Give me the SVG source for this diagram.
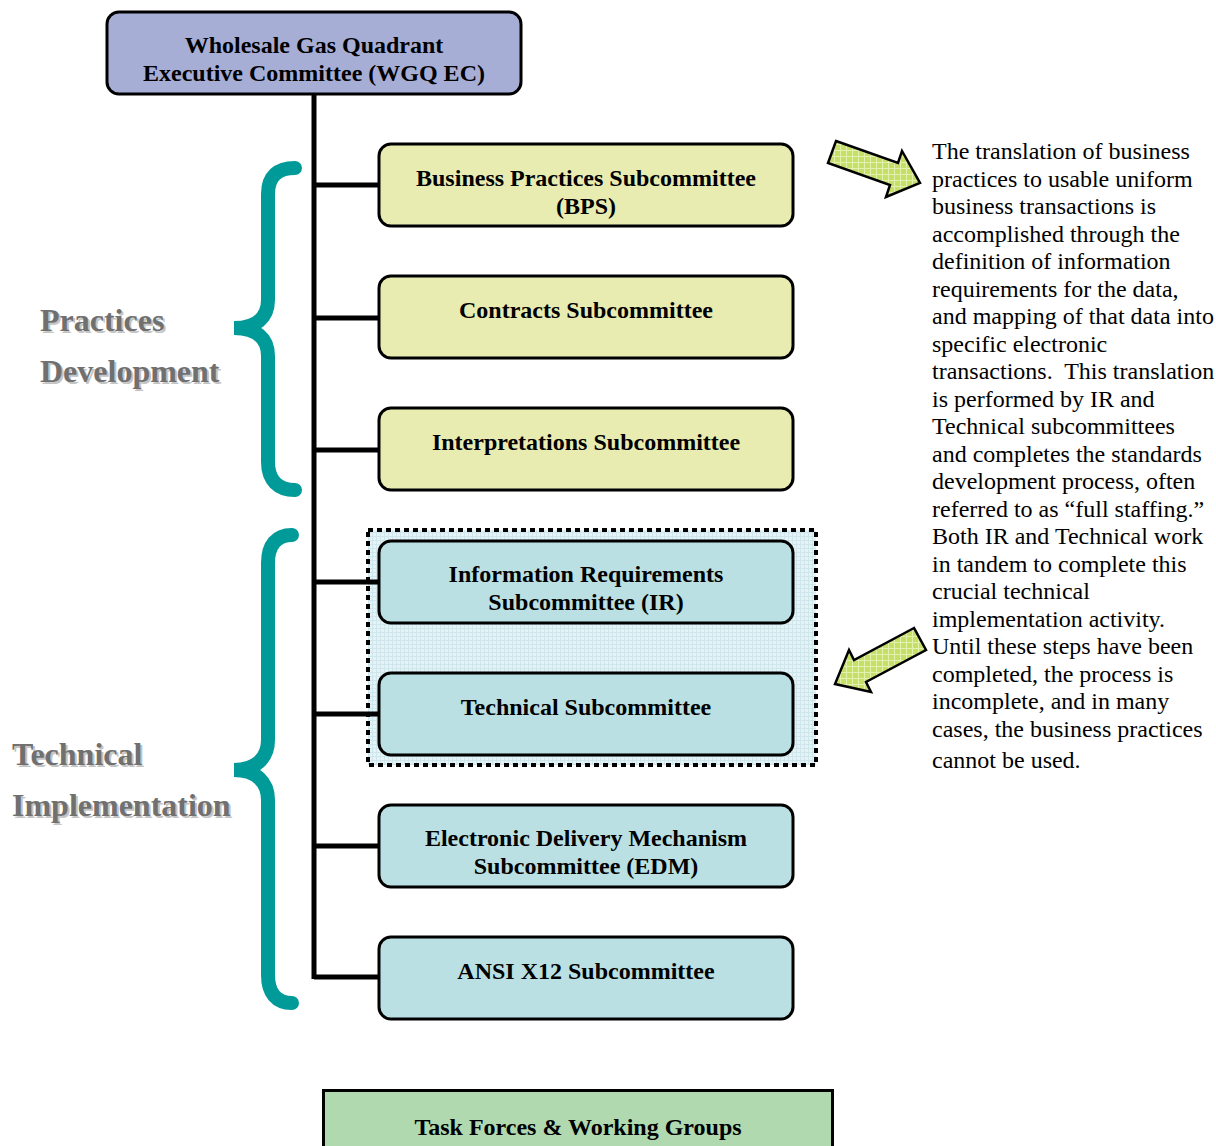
<svg xmlns="http://www.w3.org/2000/svg" width="1216" height="1146" viewBox="0 0 1216 1146">
<defs>
<pattern id="grid" width="4" height="4" patternUnits="userSpaceOnUse">
<rect width="4" height="4" fill="#e6f3f6"/>
<path d="M0 0.5H4M0.5 0V4" stroke="#cfe7ec" stroke-width="1"/>
</pattern>
<pattern id="agrid" width="6" height="6" patternUnits="userSpaceOnUse">
<rect width="6" height="6" fill="#c6e067"/>
<path d="M0 0.5H6M0.5 0V6" stroke="#e2f0b0" stroke-width="1"/>
</pattern>
<style>
.box{stroke:#000;stroke-width:3}
.ec{fill:#a7aed6}
.yel{fill:#e9ecb0}
.blu{fill:#bbe0e3}
.t{font-family:"Liberation Serif","Times New Roman",serif;font-size:24px;font-weight:bold;fill:#000;text-anchor:middle}
.side{font-family:"Liberation Serif","Times New Roman",serif;font-size:32px;font-weight:bold}
.sh{fill:#c4c4c4}
.sf{fill:#707070}
.body{font-family:"Liberation Serif","Times New Roman",serif;font-size:24px;fill:#000}
.brace{fill:none;stroke:#009a98;stroke-width:14;stroke-linecap:round}
.conn{stroke:#000;stroke-width:5;fill:none}
.arrow{fill:url(#agrid);stroke:#000;stroke-width:2.5;stroke-linejoin:miter}
</style>
</defs>
<rect width="1216" height="1146" fill="#fff"/>

<g id="ir-tech-group">
<rect x="368" y="530" width="448" height="235" fill="url(#grid)" stroke="#000" stroke-width="4" stroke-dasharray="5 4"/>
</g>

<g id="connectors">
<line class="conn" x1="314" y1="94" x2="314" y2="979"/>
<line class="conn" x1="314" y1="185" x2="380" y2="185"/>
<line class="conn" x1="314" y1="318" x2="380" y2="318"/>
<line class="conn" x1="314" y1="450" x2="380" y2="450"/>
<line class="conn" x1="314" y1="582" x2="380" y2="582"/>
<line class="conn" x1="314" y1="714" x2="380" y2="714"/>
<line class="conn" x1="314" y1="846" x2="380" y2="846"/>
<line class="conn" x1="314" y1="977" x2="380" y2="977"/>
</g>

<g id="wgq-ec">
<rect class="box ec" x="107" y="12" width="414" height="82" rx="12"/>
<text class="t" x="314" y="53">Wholesale Gas Quadrant</text>
<text class="t" x="314" y="81">Executive Committee (WGQ EC)</text>
</g>

<g id="bps">
<rect class="box yel" x="379" y="144" width="414" height="82" rx="12"/>
<text class="t" x="586" y="186">Business Practices Subcommittee</text>
<text class="t" x="586" y="214">(BPS)</text>
</g>
<g id="contracts">
<rect class="box yel" x="379" y="276" width="414" height="82" rx="12"/>
<text class="t" x="586" y="318">Contracts Subcommittee</text>
</g>
<g id="interpretations">
<rect class="box yel" x="379" y="408" width="414" height="82" rx="12"/>
<text class="t" x="586" y="450">Interpretations Subcommittee</text>
</g>
<g id="ir">
<rect class="box blu" x="379" y="541" width="414" height="82" rx="12"/>
<text class="t" x="586" y="582">Information Requirements</text>
<text class="t" x="586" y="610">Subcommittee (IR)</text>
</g>
<g id="technical">
<rect class="box blu" x="379" y="673" width="414" height="82" rx="12"/>
<text class="t" x="586" y="715">Technical Subcommittee</text>
</g>
<g id="edm">
<rect class="box blu" x="379" y="805" width="414" height="82" rx="12"/>
<text class="t" x="586" y="846">Electronic Delivery Mechanism</text>
<text class="t" x="586" y="874">Subcommittee (EDM)</text>
</g>
<g id="ansi">
<rect class="box blu" x="379" y="937" width="414" height="82" rx="12"/>
<text class="t" x="586" y="979">ANSI X12 Subcommittee</text>
</g>
<g id="task-forces">
<rect x="323.5" y="1090.5" width="509" height="70" fill="#b0d9b0" stroke="#000" stroke-width="3"/>
<text class="t" x="578" y="1135">Task Forces &amp; Working Groups</text>
</g>

<g id="braces">
<path class="brace" d="M295 168 C278 168 268 176 268 194 L268 300 C268 318 256 328 234 328 C256 328 268 338 268 356 L268 462 C268 480 278 490 295 490"/>
<path class="brace" d="M292 535 C276 535 268 545 268 563 L268 740 C268 758 256 770 234 770 C256 770 268 782 268 800 L268 975 C268 993 276 1003 292 1003"/>
</g>

<g id="labels">
<text class="side sh" x="42" y="333">Practices</text>
<text class="side sf" x="40" y="331">Practices</text>
<text class="side sh" x="42" y="384">Development</text>
<text class="side sf" x="40" y="382">Development</text>
<text class="side sh" x="14" y="767">Technical</text>
<text class="side sf" x="12" y="765">Technical</text>
<text class="side sh" x="14" y="818">Implementation</text>
<text class="side sf" x="12" y="816">Implementation</text>
</g>

<g id="arrows">
<polygon class="arrow" points="836,141 898,163 902,151 920,183 886,197 890,185 828,163"/>
<polygon class="arrow" points="914,628 854,660 849,650 835,684 871,692 866,682 926,650"/>
</g>

<g id="description">
<text class="body" x="932" y="159">The translation of business</text>
<text class="body" x="932" y="186.5">practices to usable uniform</text>
<text class="body" x="932" y="214">business transactions is</text>
<text class="body" x="932" y="241.5">accomplished through the</text>
<text class="body" x="932" y="269">definition of information</text>
<text class="body" x="932" y="296.5">requirements for the data,</text>
<text class="body" x="932" y="324">and mapping of that data into</text>
<text class="body" x="932" y="351.5">specific electronic</text>
<text class="body" x="932" y="379" xml:space="preserve">transactions.  This translation</text>
<text class="body" x="932" y="406.5">is performed by IR and</text>
<text class="body" x="932" y="434">Technical subcommittees</text>
<text class="body" x="932" y="461.5">and completes the standards</text>
<text class="body" x="932" y="489">development process, often</text>
<text class="body" x="932" y="516.5">referred to as “full staffing.”</text>
<text class="body" x="932" y="544">Both IR and Technical work</text>
<text class="body" x="932" y="571.5">in tandem to complete this</text>
<text class="body" x="932" y="599">crucial technical</text>
<text class="body" x="932" y="626.5">implementation activity.</text>
<text class="body" x="932" y="654">Until these steps have been</text>
<text class="body" x="932" y="681.5">completed, the process is</text>
<text class="body" x="932" y="709">incomplete, and in many</text>
<text class="body" x="932" y="736.5">cases, the business practices</text>
<text class="body" x="932" y="768">cannot be used.</text>
</g>
</svg>
